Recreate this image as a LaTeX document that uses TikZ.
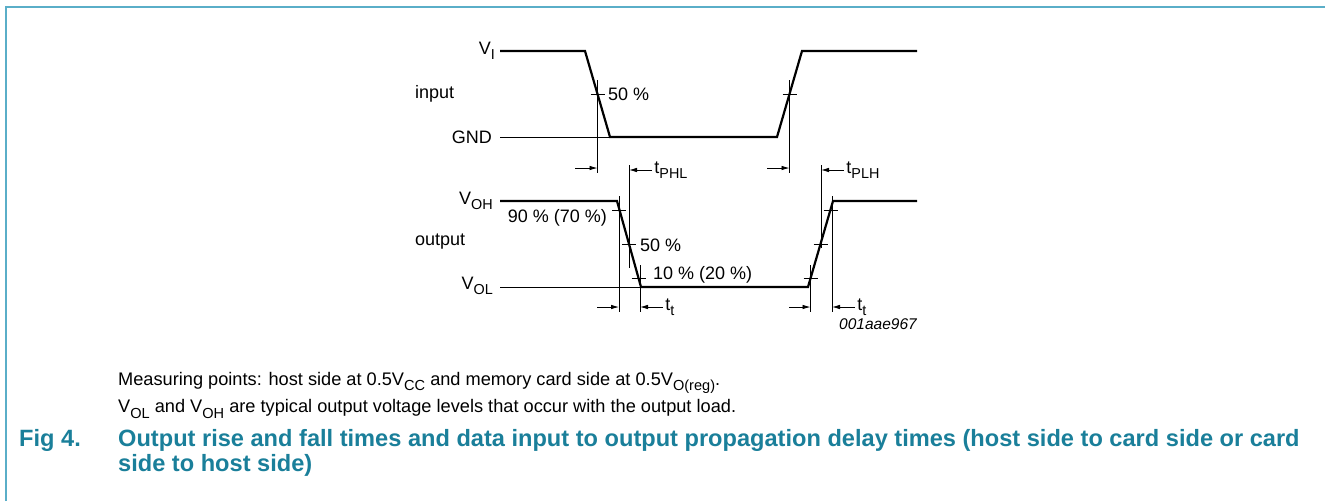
\documentclass[tikz,border=0pt]{standalone}
\usepackage{fontspec}
\usepackage{graphicx}
\setmainfont{Liberation Sans}
\usetikzlibrary{arrows.meta}
\definecolor{framecol}{HTML}{5AAEC8}
\definecolor{titlecol}{HTML}{1A7F9A}
\newcommand{\sbs}[1]{\raisebox{-0.3em}{\scalebox{0.8}{#1}}}
\begin{document}
\begin{tikzpicture}[x=1pt, y=-1pt,
    wave/.style={line width=2.2pt},
    hair/.style={line width=0.8pt},
    dim/.style={-{Latex[length=8pt,width=4.5pt]}, line width=0.8pt},
    lbl/.style={font=\fontsize{18}{21}\selectfont, inner sep=0pt},
    note/.style={font=\fontsize{18.2}{21}\selectfont, inner sep=0pt, anchor=west},
    ttl/.style={font=\fontsize{23.6}{26}\selectfont\bfseries, text=titlecol, inner sep=0pt, anchor=west}]
  \useasboundingbox (0,0) rectangle (1325,501);
  \draw[framecol, line width=2pt] (6,501) -- (6,7) -- (1325,7);
  % waveforms
  \draw[wave] (500,51) -- (585,51) -- (610,137) -- (777,137) -- (802,51) -- (917,51);
  \draw[hair] (500,137) -- (610,137);
  \draw[wave] (500,201) -- (617,201) -- (641,287) -- (808,287) -- (833,201) -- (917,201);
  \draw[hair] (500,287) -- (641,287);
  % ticks on the edges
  \foreach \x/\y in {597.5/94, 789.5/94, 619.4/210.5, 629/244.5, 638.6/278.5, 810.5/278.5, 820.5/244.5, 830.5/210.5}
    \draw[hair] (\x-7,\y) -- (\x+7,\y);
  % reference lines
  \foreach \x/\ya/\yb in {597.5/80/173, 789.5/80/173, 629/165/268, 821/165/248, 619/196/312, 640/265/312, 810.5/265/312, 832/196/312}
    \draw[hair] (\x,\ya) -- (\x,\yb);
  % arrows
  \draw[dim] (575,168) -- (597.5,168);
  \draw[dim] (767,168) -- (789.5,168);
  \draw[dim] (597,307) -- (619,307);
  \draw[dim] (789,307) -- (810.5,307);
  \draw[dim] (652,170) node[lbl, anchor=west, xshift=2pt] (tphl) {t\sbs{PHL}} -- (629,170);
  \draw[dim] (844,170) node[lbl, anchor=west, xshift=2pt] (tplh) {t\sbs{PLH}} -- (821,170);
  \draw[dim] (663,307) node[lbl, anchor=west, xshift=2pt] (tt1) {t\sbs{t}} -- (640,307);
  \draw[dim] (855,307) node[lbl, anchor=west, xshift=2pt] (tt2) {t\sbs{t}} -- (832,307);
  % labels
  \node[lbl, anchor=east] (vi) at (495,51) {V\sbs{I}};
  \node[lbl, anchor=west] (input) at (415,94) {input};
  \node[lbl, anchor=east] (gnd) at (492,137) {GND};
  \node[lbl, anchor=west] (in50) at (608,94) {50 \%};
  \node[lbl, anchor=east] (voh) at (493,201) {V\sbs{OH}};
  \node[lbl, anchor=west] (output) at (415,242) {output};
  \node[lbl, anchor=east] (vol) at (493,286) {V\sbs{OL}};
  \node[lbl, anchor=east] (p90) at (607,218) {90 \% (70 \%)};
  \node[lbl, anchor=west] (out50) at (640,245) {50 \%};
  \node[lbl, anchor=west] (p10) at (653,275) {10 \% (20 \%)};
  \node[lbl, anchor=east, font=\fontsize{15.5}{18}\selectfont\itshape] (code) at (917,324) {001aae967};
  % caption
  \node[note] (meas) at (118,383) {Measuring points: host side at 0.5V\sbs{CC} and memory card side at 0.5V\sbs{O(reg)}.};
  \node[note] (levels) at (118,409) {V\sbs{OL} and V\sbs{OH} are typical output voltage levels that occur with the output load.};
  \node[ttl] (fig) at (19,440) {Fig 4.};
  \node[ttl] (cap1) at (118,440) {Output rise and fall times and data input to output propagation delay times (host side to card side or card};
  \node[ttl] (cap2) at (118,465) {side to host side)};
\end{tikzpicture}
\end{document}
